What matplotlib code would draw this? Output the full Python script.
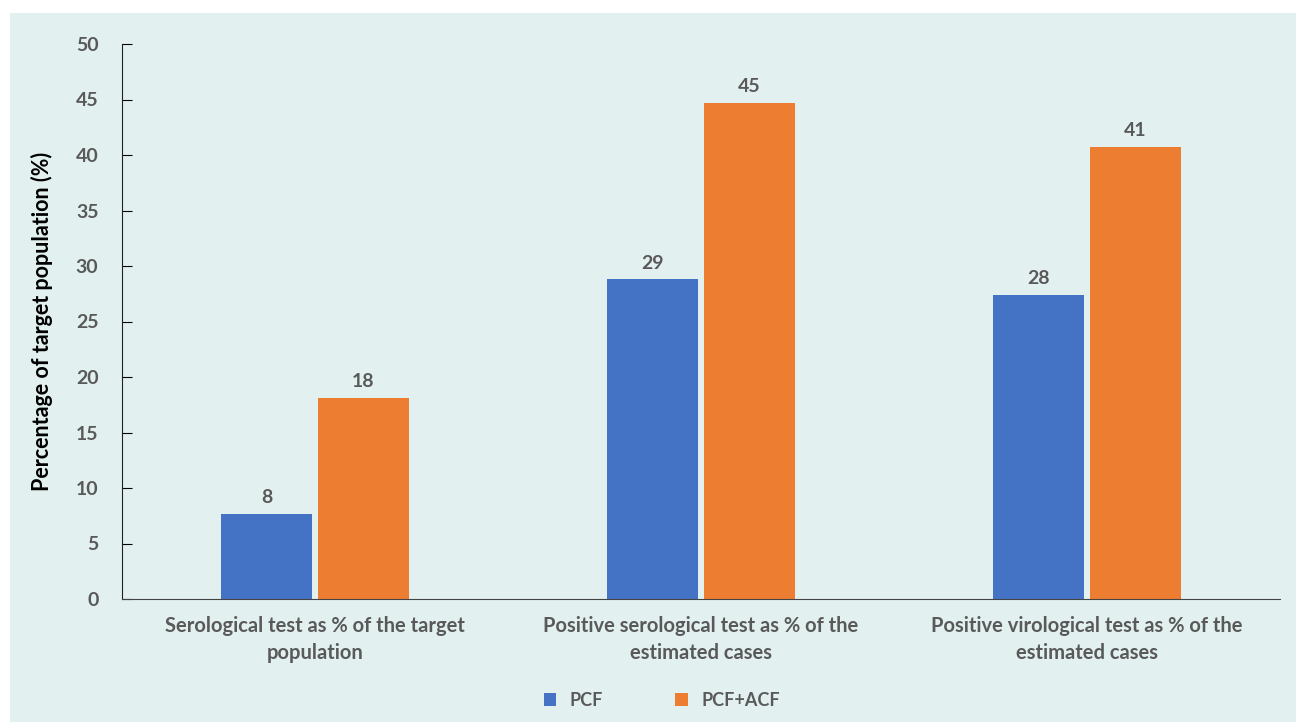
import numpy as np
import matplotlib.pyplot as plt
from matplotlib.patches import Rectangle

categories = ["Serological test as % of the target\npopulation",
              "Positive serological test as % of the\nestimated cases",
              "Positive virological test as % of the\nestimated cases"]
pcf = [7.7, 28.8, 27.4]
pcf_acf = [18.1, 44.7, 40.7]
pcf_labels = ["8", "29", "28"]
pcf_acf_labels = ["18", "45", "41"]
yticks = [0, 5, 10, 15, 20, 25, 30, 35, 40, 45, 50]

bg = "#e2f1f0"
grey = "#595959"
blue = "#4472c4"
orange = "#ed7d31"

plt.rcParams['font.family'] = ['Lato', 'DejaVu Sans']

fig = plt.figure(figsize=(12.96, 7.22), dpi=100)
fig.patches.append(Rectangle((10 / 1296, 0), 1, 1 - 13 / 722, transform=fig.transFigure,
                             facecolor=bg, edgecolor='none', zorder=-1))
ax = fig.add_axes([122 / 1296, 1 - 599 / 722, (1280 - 122) / 1296, (599 - 44) / 722])
ax.set_facecolor('none')

x = np.arange(len(categories))
w = 0.238
b1 = ax.bar(x - w / 2 - 0.0065, pcf, w, color=blue, label="PCF")
b2 = ax.bar(x + w / 2 + 0.0065, pcf_acf, w, color=orange, label="PCF+ACF")

for bars, labs in [(b1, pcf_labels), (b2, pcf_acf_labels)]:
    for r, t in zip(bars, labs):
        ax.text(r.get_x() + r.get_width() / 2, r.get_height() + 0.7, t,
                ha='center', va='bottom', fontsize=14, fontweight='bold', color=grey)

ax.set_xlim(-0.5, 2.5)
ax.set_ylim(0, 50)
ax.set_yticks(yticks)
ax.tick_params(axis='y', direction='in', length=7, labelsize=14, labelcolor=grey, pad=17)
for t in ax.get_yticklabels():
    t.set_fontweight('bold')
ax.set_xticks(x)
ax.set_xticklabels(categories, fontsize=14.5, fontweight='bold', color=grey, linespacing=1.45)
ax.tick_params(axis='x', length=0, pad=12)
ax.spines['top'].set_visible(False)
ax.spines['right'].set_visible(False)
ax.spines['left'].set_color('#222222')
ax.spines['bottom'].set_color('#444444')
ax.set_ylabel("Percentage of target population (%)", fontsize=15.5, fontweight='bold',
              color='black', labelpad=16)

leg = fig.legend(loc='center', bbox_to_anchor=(662 / 1296, 1 - 700 / 722), ncol=2, frameon=False,
                 fontsize=13, handlelength=0.7, handleheight=0.7, columnspacing=4.0,
                 handletextpad=0.75)
for t in leg.get_texts():
    t.set_fontweight('bold')
    t.set_color(grey)

fig.savefig("out.png", dpi=100)
